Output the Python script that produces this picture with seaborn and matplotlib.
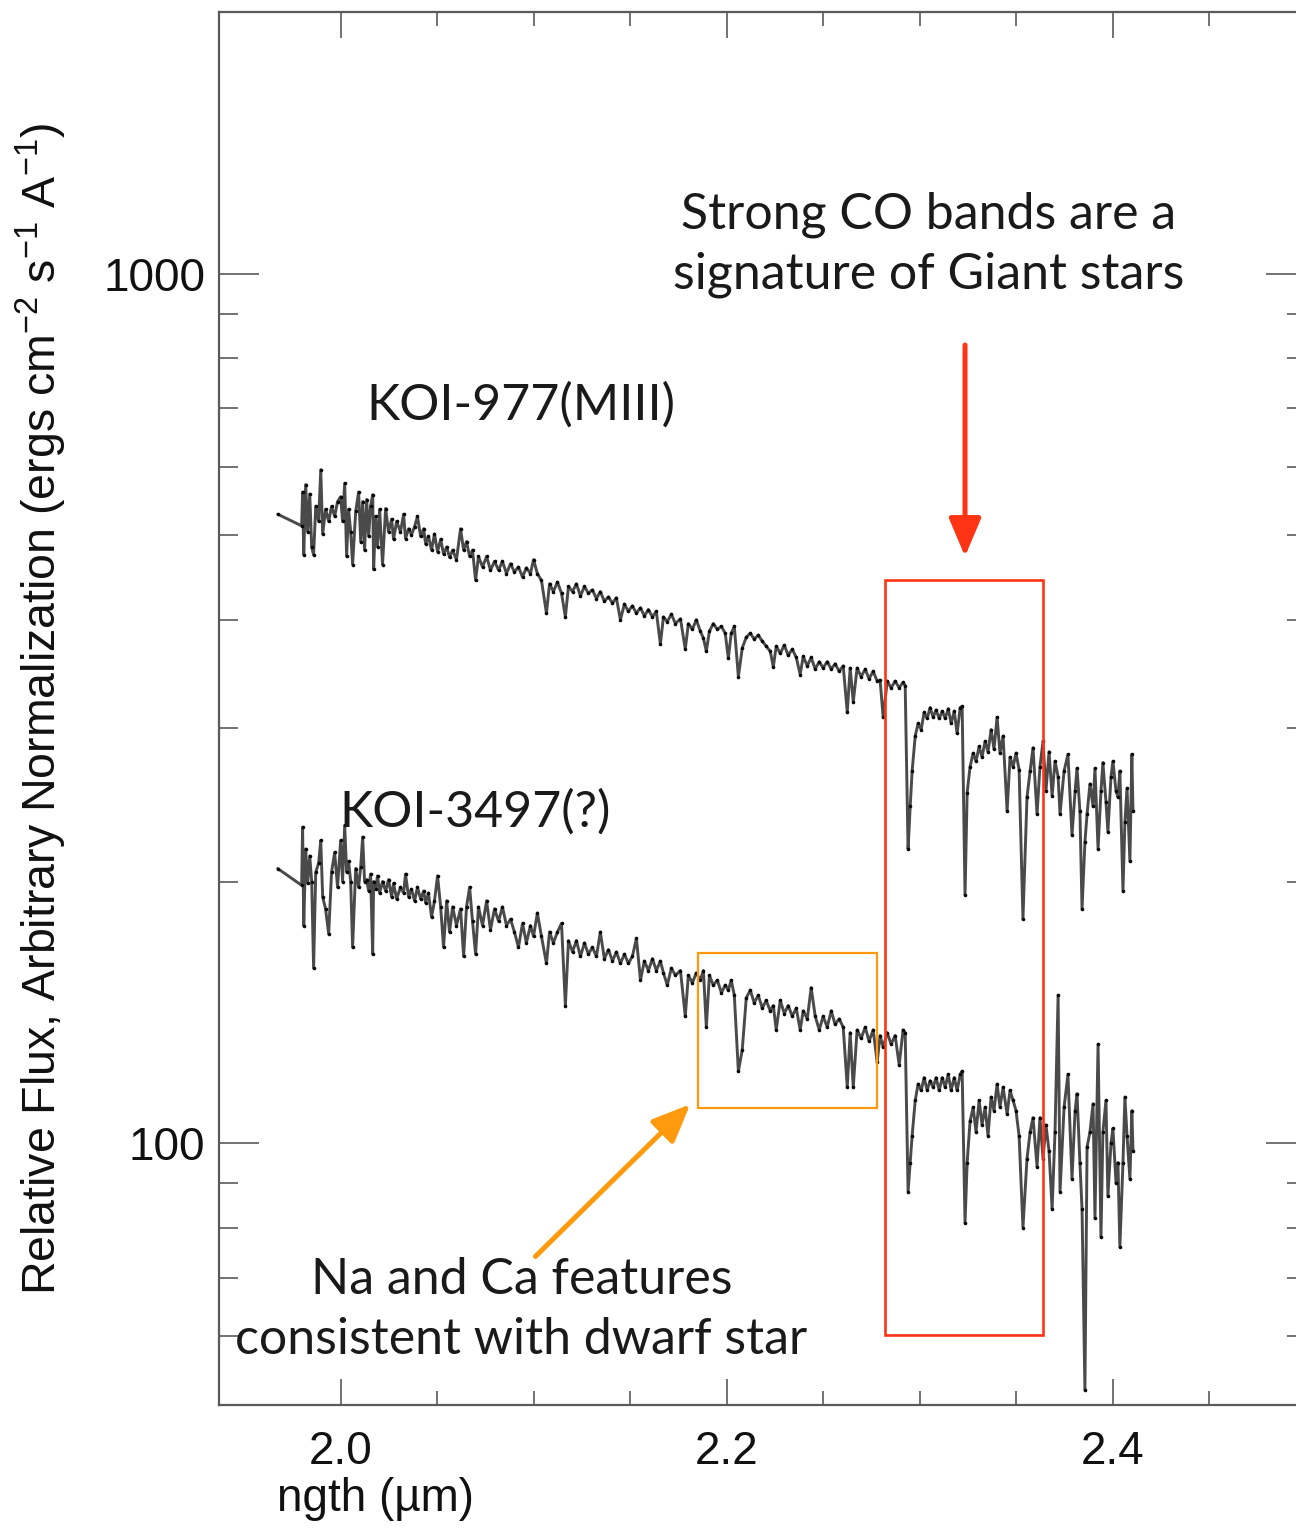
import matplotlib
matplotlib.use("Agg")
import numpy as np
import pandas as pd
import matplotlib.pyplot as plt
from matplotlib.patches import Rectangle
from matplotlib.ticker import FixedLocator, NullFormatter
import seaborn as sns

# Shared wavelength grid (micron) of the two K-band spectra
wavelength = [
    1.9674, 1.9798, 1.9803, 1.9809, 1.9819, 1.9829, 1.9840, 1.9850, 1.9860, 1.9871,
    1.9886, 1.9897, 1.9907, 1.9922, 1.9938, 1.9953, 1.9969, 1.9984, 2.0000, 2.0010,
    2.0021, 2.0031, 2.0041, 2.0052, 2.0062, 2.0078, 2.0093, 2.0104, 2.0114, 2.0124,
    2.0135, 2.0145, 2.0155, 2.0166, 2.0171, 2.0181, 2.0191, 2.0202, 2.0217, 2.0233,
    2.0248, 2.0264, 2.0274, 2.0290, 2.0310, 2.0326, 2.0336, 2.0352, 2.0367, 2.0383,
    2.0398, 2.0414, 2.0430, 2.0440, 2.0455, 2.0471, 2.0486, 2.0502, 2.0518, 2.0533,
    2.0549, 2.0564, 2.0580, 2.0600, 2.0621, 2.0637, 2.0652, 2.0668, 2.0683, 2.0699,
    2.0714, 2.0735, 2.0756, 2.0776, 2.0797, 2.0818, 2.0838, 2.0859, 2.0880, 2.0900,
    2.0921, 2.0942, 2.0962, 2.0983, 2.0999, 2.1019, 2.1040, 2.1066, 2.1082, 2.1102,
    2.1123, 2.1144, 2.1164, 2.1180, 2.1201, 2.1221, 2.1242, 2.1263, 2.1283, 2.1304,
    2.1325, 2.1345, 2.1366, 2.1387, 2.1408, 2.1428, 2.1449, 2.1470, 2.1490, 2.1511,
    2.1532, 2.1553, 2.1573, 2.1594, 2.1615, 2.1635, 2.1656, 2.1672, 2.1692, 2.1713,
    2.1734, 2.1760, 2.1785, 2.1801, 2.1822, 2.1842, 2.1863, 2.1879, 2.1894, 2.1910,
    2.1930, 2.1951, 2.1972, 2.1992, 2.2008, 2.2023, 2.2039, 2.2060, 2.2080, 2.2101,
    2.2122, 2.2142, 2.2163, 2.2184, 2.2204, 2.2225, 2.2241, 2.2256, 2.2277, 2.2298,
    2.2318, 2.2339, 2.2360, 2.2380, 2.2396, 2.2417, 2.2437, 2.2458, 2.2479, 2.2499,
    2.2520, 2.2541, 2.2561, 2.2582, 2.2603, 2.2624, 2.2639, 2.2655, 2.2675, 2.2696,
    2.2717, 2.2737, 2.2758, 2.2779, 2.2794, 2.2810, 2.2831, 2.2851, 2.2872, 2.2893,
    2.2913, 2.2924, 2.2939, 2.2950, 2.2960, 2.2976, 2.2991, 2.3007, 2.3022, 2.3038,
    2.3053, 2.3069, 2.3084, 2.3100, 2.3116, 2.3131, 2.3147, 2.3162, 2.3178, 2.3193,
    2.3209, 2.3219, 2.3234, 2.3245, 2.3260, 2.3276, 2.3291, 2.3307, 2.3322, 2.3338,
    2.3353, 2.3369, 2.3384, 2.3400, 2.3415, 2.3431, 2.3452, 2.3467, 2.3483, 2.3498,
    2.3514, 2.3534, 2.3555, 2.3571, 2.3586, 2.3607, 2.3622, 2.3638, 2.3653, 2.3669,
    2.3685, 2.3700, 2.3716, 2.3726, 2.3747, 2.3767, 2.3788, 2.3804, 2.3814, 2.3829,
    2.3840, 2.3855, 2.3866, 2.3881, 2.3897, 2.3907, 2.3923, 2.3938, 2.3948, 2.3964,
    2.3974, 2.3990, 2.4000, 2.4016, 2.4026, 2.4036, 2.4052, 2.4062, 2.4073, 2.4088,
    2.4098, 2.4104,
]

# KOI-977 (M III giant), relative flux
flux_koi977 = [
    529, 513, 561, 475, 572, 505, 558, 485, 475, 540,
    519, 595, 502, 536, 519, 540, 526, 547, 554, 519,
    574, 473, 536, 505, 463, 533, 561, 492, 547, 481,
    550, 499, 540, 557, 457, 526, 485, 536, 463, 537,
    505, 522, 495, 519, 505, 529, 496, 509, 501, 512,
    526, 499, 509, 489, 499, 481, 502, 479, 495, 476,
    485, 472, 481, 469, 509, 481, 492, 473, 481, 444,
    473, 460, 473, 456, 467, 456, 467, 452, 464, 454,
    460, 448, 459, 452, 469, 452, 444, 407, 440, 431,
    442, 429, 403, 437, 431, 440, 426, 437, 429, 433,
    423, 431, 420, 425, 418, 424, 400, 417, 409, 415,
    407, 413, 404, 411, 403, 409, 375, 403, 398, 406,
    396, 401, 370, 396, 390, 400, 388, 381, 368, 388,
    396, 390, 393, 386, 361, 386, 393, 344, 371, 382,
    386, 380, 384, 378, 373, 368, 353, 373, 366, 374,
    364, 370, 362, 346, 363, 354, 362, 351, 358, 352,
    358, 351, 356, 349, 354, 313, 352, 322, 352, 344,
    351, 342, 349, 340, 341, 309, 340, 334, 340, 334,
    339, 336, 218, 244, 268, 294, 304, 299, 313, 308,
    317, 309, 315, 308, 314, 308, 316, 304, 314, 296,
    317, 318, 193, 253, 271, 281, 275, 286, 278, 290,
    282, 299, 284, 309, 281, 294, 241, 278, 271, 281,
    269, 181, 250, 268, 285, 239, 271, 290, 254, 282,
    251, 275, 264, 239, 268, 280, 226, 254, 270, 241,
    186, 222, 239, 259, 244, 270, 218, 254, 274, 247,
    228, 264, 275, 254, 250, 268, 195, 234, 256, 211,
    280, 241,
]

# KOI-3497 (unknown class), relative flux
flux_koi3497 = [
    207, 198, 231, 178, 218, 199, 214, 200, 159, 205,
    210, 223, 192, 186, 174, 205, 216, 197, 223, 200,
    232, 205, 211, 200, 168, 207, 197, 208, 225, 200,
    201, 195, 204, 165, 200, 196, 203, 194, 200, 195,
    201, 192, 199, 191, 197, 194, 204, 192, 196, 190,
    197, 191, 195, 189, 194, 182, 190, 203, 187, 168,
    190, 175, 187, 178, 186, 164, 187, 197, 180, 165,
    187, 178, 190, 176, 186, 180, 187, 178, 181, 175,
    168, 179, 170, 178, 173, 184, 173, 161, 175, 170,
    175, 179, 144, 171, 166, 171, 164, 170, 165, 168,
    164, 175, 163, 167, 162, 166, 161, 165, 161, 164,
    172, 154, 162, 158, 163, 158, 162, 157, 152, 159,
    156, 158, 140, 156, 153, 157, 154, 158, 136, 156,
    152, 154, 149, 152, 150, 154, 148, 121, 128, 147,
    150, 145, 148, 143, 146, 142, 144, 135, 146, 141,
    144, 140, 143, 135, 142, 139, 151, 140, 135, 140,
    136, 142, 137, 139, 136, 116, 134, 116, 135, 132,
    136, 131, 135, 124, 133, 129, 134, 130, 133, 123,
    135, 134, 88, 95, 102, 112, 117, 115, 119, 115,
    118, 116, 119, 115, 119, 116, 120, 115, 119, 115,
    120, 121, 81, 95, 106, 110, 103, 112, 105, 110,
    102, 113, 109, 117, 110, 116, 108, 115, 112, 109,
    102, 80, 96, 103, 107, 94, 107, 96, 105, 98,
    84, 103, 148, 88, 110, 120, 91, 109, 114, 95,
    84, 52, 99, 103, 111, 82, 130, 78, 103, 112,
    87, 100, 104, 90, 95, 76, 95, 113, 102, 91,
    109, 98,
]

x_major = [2.0, 2.2, 2.4]
x_major_labels = ["2.0", "2.2", "2.4"]
x_minor = [2.05, 2.10, 2.15, 2.25, 2.30, 2.35, 2.45]
y_major = [100, 1000]
y_major_labels = ["100", "1000"]
y_minor = [60, 70, 80, 90, 200, 300, 400, 500, 600, 700, 800, 900]

# Highlighted spectral regions: (x0, x1, y0, y1)
co_band_box = (2.282, 2.3638, 60.2, 445.0)
naca_box = (2.1853, 2.2779, 109.7, 165.4)

sns.set_theme(style="ticks")
plt.rcParams["font.family"] = ["Liberation Sans", "DejaVu Sans"]
plt.rcParams["mathtext.fontset"] = "custom"
plt.rcParams["mathtext.rm"] = "Liberation Sans"
plt.rcParams["mathtext.default"] = "regular"

W, H = 1296, 1531
fig = plt.figure(figsize=(W / 100, H / 100), dpi=100)
ax = fig.add_axes([219 / W, 1 - 1405 / H, 1087 / W, 1393 / H])

n = len(wavelength)
df = pd.DataFrame({
    "wavelength": wavelength * 2,
    "flux": flux_koi977 + flux_koi3497,
    "star": ["KOI-977"] * n + ["KOI-3497"] * n,
})
sns.lineplot(data=df, x="wavelength", y="flux", hue="star", units="star",
             estimator=None, sort=False, legend=False, ax=ax,
             palette={"KOI-977": "#4a4a4a", "KOI-3497": "#4a4a4a"},
             linewidth=2.1)
for line in ax.lines:
    line.set_marker("o")
    line.set_markersize(2.6)
    line.set_markerfacecolor("#0a0a0a")
    line.set_markeredgewidth(0)

ax.set_yscale("log")
ax.set_xlim(1.937, 2.5)
ax.set_ylim(50, 2000)

ax.set_xticks(x_major, x_major_labels)
ax.xaxis.set_minor_locator(FixedLocator(x_minor))
ax.set_yticks(y_major, y_major_labels)
ax.yaxis.set_minor_locator(FixedLocator(y_minor))
ax.yaxis.set_minor_formatter(NullFormatter())

tick_col = "#5a5a5a"
ax.tick_params(which="both", direction="in", top=True, right=True,
               color=tick_col, width=1.2, labelsize=33, labelcolor="#111111")
ax.tick_params(axis="x", which="major", length=19, pad=18)
ax.tick_params(axis="x", which="minor", length=10)
ax.tick_params(axis="y", which="major", length=29, pad=10)
ax.tick_params(axis="y", which="minor", length=14)
for sp in ax.spines.values():
    sp.set_color(tick_col)
    sp.set_linewidth(1.6)

ax.set_ylabel(r"Relative Flux, Arbitrary Normalization (ergs cm$^{-2}$ s$^{-1}$ A$^{-1}$)",
              fontsize=33.5, color="#111111")
ax.yaxis.set_label_coords(-0.138, 0.5)
ax.set_xlabel("ngth (\u00b5m)", fontsize=33, color="#111111")
ax.xaxis.set_label_coords(0.1444, -0.052)

# Highlight boxes
red = "#ff3414"
orange = "#ff9a0e"
x0, x1, y0, y1 = co_band_box
ax.add_patch(Rectangle((x0, y0), x1 - x0, y1 - y0, fill=False, ec=red, lw=1.9, zorder=3))
x0, x1, y0, y1 = naca_box
ax.add_patch(Rectangle((x0, y0), x1 - x0, y1 - y0, fill=False, ec=orange, lw=1.6, zorder=3))

# Arrows pointing at the boxes
ax.annotate("", xy=(2.3234, 473), xytext=(2.3234, 828),
            arrowprops=dict(arrowstyle="-|>,head_length=1.3,head_width=0.55",
                            color=red, lw=3.6, mutation_scale=18,
                            shrinkA=0, shrinkB=0))
ax.annotate("", xy=(2.1811, 110.9), xytext=(2.1009, 74.1),
            arrowprops=dict(arrowstyle="-|>,head_length=1.3,head_width=0.55",
                            color=orange, lw=3.6, mutation_scale=18,
                            shrinkA=0, shrinkB=0))

# Annotation text
note = dict(family=["Lato", "DejaVu Sans"], fontsize=36, color="#1a1a1a",
            ha="center", va="center")
fig.text(929 / W, 1 - 215 / H, "Strong CO bands are a", **note)
fig.text(929 / W, 1 - 275 / H, "signature of Giant stars", **note)
fig.text(521 / W, 1 - 405 / H, "KOI-977(MIII)", **note)
fig.text(475 / W, 1 - 812 / H, "KOI-3497(?)", **note)
fig.text(522 / W, 1 - 1280 / H, "Na and Ca features", **note)
fig.text(521 / W, 1 - 1340 / H, "consistent with dwarf star", **note)

fig.savefig("out.png", dpi=100)
